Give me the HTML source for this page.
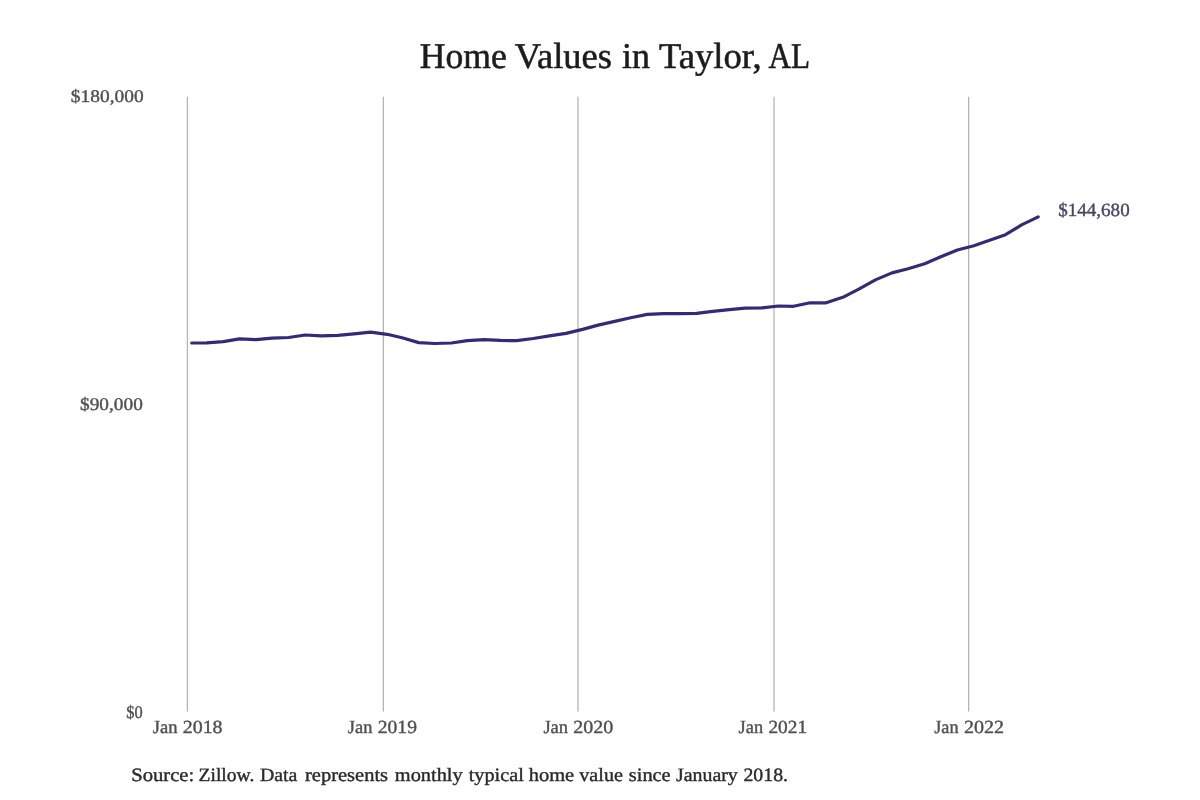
<!DOCTYPE html>
<html><head><meta charset="utf-8"><title>Home Values in Taylor, AL</title>
<style>
html,body{margin:0;padding:0;background:#fff;}
body{width:1200px;height:800px;overflow:hidden;font-family:"Liberation Serif",serif;}
svg{display:block;}
svg text{font-family:"Liberation Serif",serif;text-rendering:geometricPrecision;}
</style></head>
<body>
<div id="chart" style="will-change:transform;width:1200px;height:800px;">
<svg width="1200" height="800" viewBox="0 0 1200 800">
<rect width="1200" height="800" fill="#ffffff"/>
<g stroke="#a0a0a0" stroke-width="1" fill="none"><line x1="187.3" y1="96.7" x2="187.3" y2="711.5"/><line x1="383.3" y1="96.7" x2="383.3" y2="711.5"/><line x1="578.0" y1="96.7" x2="578.0" y2="711.5"/><line x1="774.0" y1="96.7" x2="774.0" y2="711.5"/><line x1="968.7" y1="96.7" x2="968.7" y2="711.5"/></g>
<polyline points="191.7,343.0 206.7,342.8 223.3,341.6 239.4,338.9 256.0,339.7 272.0,338.2 288.6,337.5 305.2,335.0 321.3,335.9 337.9,335.4 353.9,333.9 370.5,332.2 387.1,334.3 402.1,337.7 418.7,342.6 434.8,343.5 451.4,343.0 467.4,340.6 484.0,339.6 500.6,340.4 516.7,340.7 533.3,338.5 549.4,335.8 566.0,333.4 582.6,329.4 598.1,325.1 614.7,321.4 630.7,317.8 647.3,314.4 663.4,313.6 680.0,313.6 696.6,313.3 712.7,311.4 729.3,309.6 745.3,308.2 761.9,307.8 778.5,306.0 793.5,306.3 810.1,302.8 826.2,302.8 842.8,297.3 858.8,289.1 875.4,279.9 892.0,272.9 908.1,268.8 924.7,263.7 940.8,256.8 957.4,250.0 973.9,245.7 988.9,240.6 1005.5,234.7 1021.6,224.9 1038.2,216.9" fill="none" stroke="#322c78" stroke-width="3.2" stroke-linecap="round" stroke-linejoin="round"/>
<text x="419.87" y="67.6" font-size="36.3" fill="#1c1c1c" stroke="#1c1c1c" stroke-width="0.55" textLength="86.96" lengthAdjust="spacingAndGlyphs">Home</text>
<text x="514.77" y="67.6" font-size="36.3" fill="#1c1c1c" stroke="#1c1c1c" stroke-width="0.55" textLength="97.13" lengthAdjust="spacingAndGlyphs">Values</text>
<text x="622.01" y="67.6" font-size="36.3" fill="#1c1c1c" stroke="#1c1c1c" stroke-width="0.55" textLength="27.93" lengthAdjust="spacingAndGlyphs">in</text>
<text x="658.90" y="67.6" font-size="36.3" fill="#1c1c1c" stroke="#1c1c1c" stroke-width="0.55" textLength="102.87" lengthAdjust="spacingAndGlyphs">Taylor,</text>
<text x="768.47" y="67.6" font-size="36.3" fill="#1c1c1c" stroke="#1c1c1c" stroke-width="0.55" textLength="41.70" lengthAdjust="spacingAndGlyphs">AL</text>
<text x="70.85" y="102.4" font-size="17.9" fill="#505050" stroke="#505050" stroke-width="0.4" textLength="72.75" lengthAdjust="spacingAndGlyphs">$180,000</text>
<text x="80.07" y="410.3" font-size="17.9" fill="#505050" stroke="#505050" stroke-width="0.4" textLength="62.77" lengthAdjust="spacingAndGlyphs">$90,000</text>
<text x="126.30" y="718.2" font-size="17.9" fill="#505050" stroke="#505050" stroke-width="0.4" textLength="16.37" lengthAdjust="spacingAndGlyphs">$0</text>
<text x="152.75" y="732.5" font-size="18.5" fill="#505050" stroke="#505050" stroke-width="0.4" textLength="24.74" lengthAdjust="spacingAndGlyphs">Jan</text>
<text x="182.72" y="732.5" font-size="18.5" fill="#505050" stroke="#505050" stroke-width="0.4" textLength="39.83" lengthAdjust="spacingAndGlyphs">2018</text>
<text x="347.82" y="732.5" font-size="18.5" fill="#505050" stroke="#505050" stroke-width="0.4" textLength="24.53" lengthAdjust="spacingAndGlyphs">Jan</text>
<text x="377.78" y="732.5" font-size="18.5" fill="#505050" stroke="#505050" stroke-width="0.4" textLength="39.15" lengthAdjust="spacingAndGlyphs">2019</text>
<text x="543.38" y="732.5" font-size="18.5" fill="#505050" stroke="#505050" stroke-width="0.4" textLength="24.67" lengthAdjust="spacingAndGlyphs">Jan</text>
<text x="573.23" y="732.5" font-size="18.5" fill="#505050" stroke="#505050" stroke-width="0.4" textLength="40.04" lengthAdjust="spacingAndGlyphs">2020</text>
<text x="738.59" y="732.5" font-size="18.5" fill="#505050" stroke="#505050" stroke-width="0.4" textLength="24.51" lengthAdjust="spacingAndGlyphs">Jan</text>
<text x="768.43" y="732.5" font-size="18.5" fill="#505050" stroke="#505050" stroke-width="0.4" textLength="38.61" lengthAdjust="spacingAndGlyphs">2021</text>
<text x="934.28" y="732.5" font-size="18.5" fill="#505050" stroke="#505050" stroke-width="0.4" textLength="24.27" lengthAdjust="spacingAndGlyphs">Jan</text>
<text x="963.99" y="732.5" font-size="18.5" fill="#505050" stroke="#505050" stroke-width="0.4" textLength="40.08" lengthAdjust="spacingAndGlyphs">2022</text>
<text x="1058.30" y="215.6" font-size="18.7" fill="#46466a" stroke="#46466a" stroke-width="0.4" textLength="71.35" lengthAdjust="spacingAndGlyphs">$144,680</text>
<text x="131.17" y="780.6" font-size="18.9" fill="#2b2b2b" stroke="#2b2b2b" stroke-width="0.4" textLength="63.09" lengthAdjust="spacingAndGlyphs">Source:</text>
<text x="198.58" y="780.6" font-size="18.9" fill="#2b2b2b" stroke="#2b2b2b" stroke-width="0.4" textLength="55.70" lengthAdjust="spacingAndGlyphs">Zillow.</text>
<text x="259.90" y="780.6" font-size="18.9" fill="#2b2b2b" stroke="#2b2b2b" stroke-width="0.4" textLength="37.41" lengthAdjust="spacingAndGlyphs">Data</text>
<text x="305.04" y="780.6" font-size="18.9" fill="#2b2b2b" stroke="#2b2b2b" stroke-width="0.4" textLength="83.01" lengthAdjust="spacingAndGlyphs">represents</text>
<text x="394.80" y="780.6" font-size="18.9" fill="#2b2b2b" stroke="#2b2b2b" stroke-width="0.4" textLength="67.91" lengthAdjust="spacingAndGlyphs">monthly</text>
<text x="468.72" y="780.6" font-size="18.9" fill="#2b2b2b" stroke="#2b2b2b" stroke-width="0.4" textLength="55.10" lengthAdjust="spacingAndGlyphs">typical</text>
<text x="528.72" y="780.6" font-size="18.9" fill="#2b2b2b" stroke="#2b2b2b" stroke-width="0.4" textLength="45.46" lengthAdjust="spacingAndGlyphs">home</text>
<text x="579.34" y="780.6" font-size="18.9" fill="#2b2b2b" stroke="#2b2b2b" stroke-width="0.4" textLength="43.53" lengthAdjust="spacingAndGlyphs">value</text>
<text x="628.80" y="780.6" font-size="18.9" fill="#2b2b2b" stroke="#2b2b2b" stroke-width="0.4" textLength="41.86" lengthAdjust="spacingAndGlyphs">since</text>
<text x="676.05" y="780.6" font-size="18.9" fill="#2b2b2b" stroke="#2b2b2b" stroke-width="0.4" textLength="61.74" lengthAdjust="spacingAndGlyphs">January</text>
<text x="743.46" y="780.6" font-size="18.9" fill="#2b2b2b" stroke="#2b2b2b" stroke-width="0.4" textLength="44.54" lengthAdjust="spacingAndGlyphs">2018.</text>
</svg>
</div>
</body></html>
